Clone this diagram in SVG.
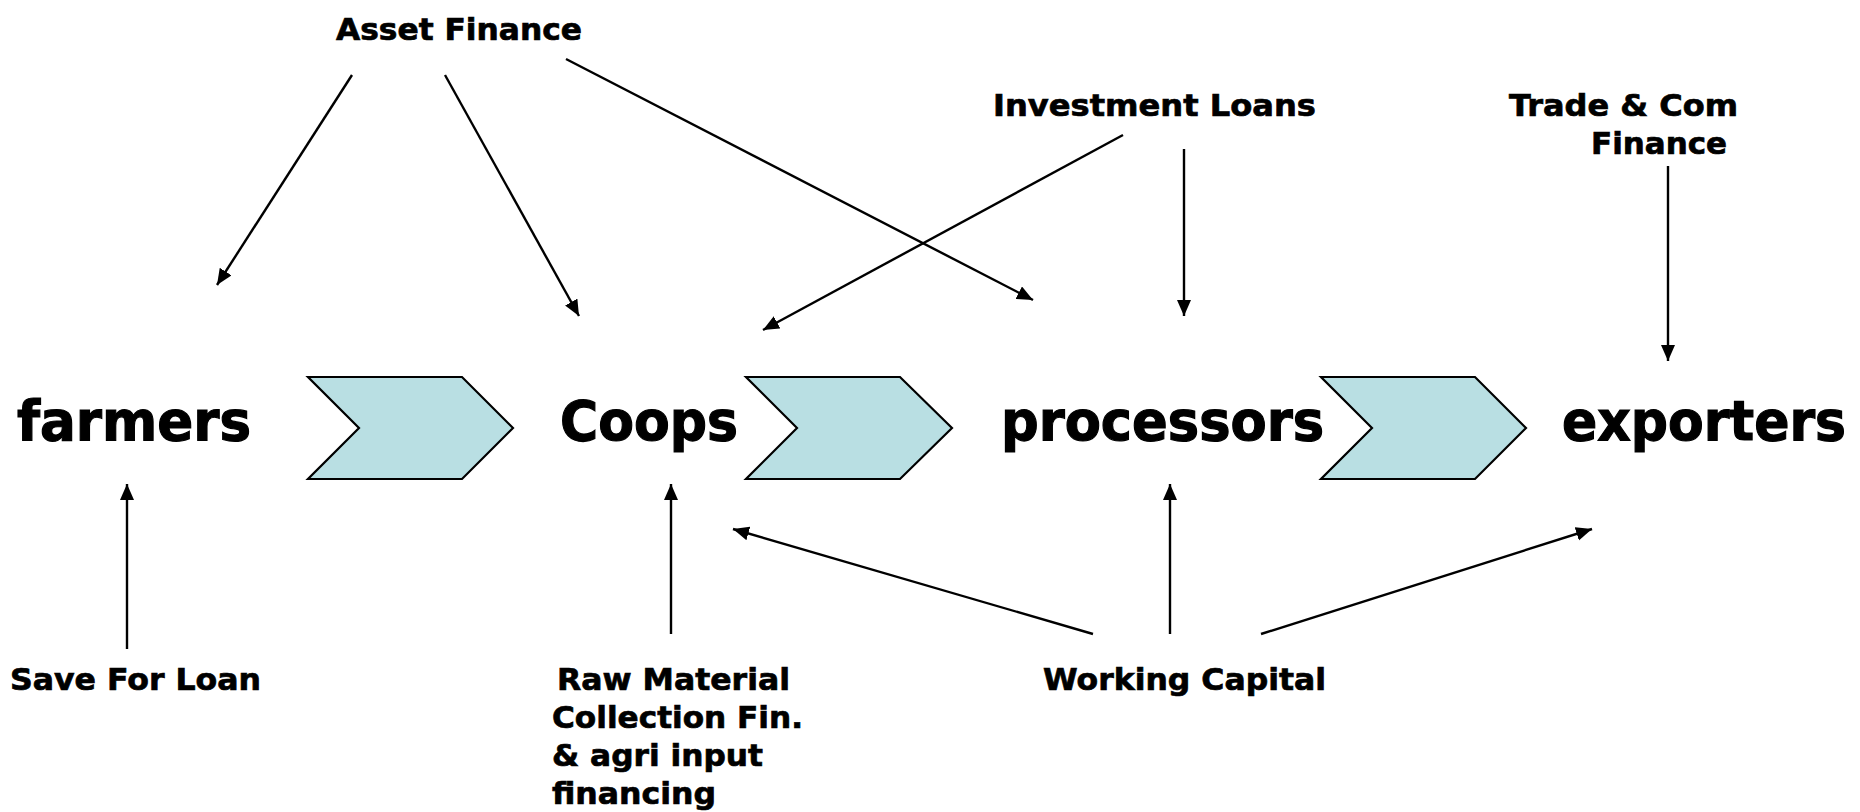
<svg xmlns="http://www.w3.org/2000/svg" width="1860" height="812" viewBox="0 0 1860 812">
  <style>
    .stage { font-family: "DejaVu Sans", Verdana, sans-serif; font-weight: bold; font-size: 55px; fill: #000; stroke: #000; stroke-width: 1.2; }
    .fin { font-family: "DejaVu Sans", Verdana, sans-serif; font-weight: bold; font-size: 31px; fill: #000; stroke: #000; stroke-width: 0.7; }
    .chev { fill: #B9DFE3; stroke: #000; stroke-width: 2.2; stroke-linejoin: miter; }
    .link { fill: none; stroke: #000; stroke-width: 2.4; marker-end: url(#head); }
  </style>
  <defs>
    <marker id="head" markerUnits="userSpaceOnUse" markerWidth="18" markerHeight="15" refX="16" refY="7" orient="auto">
      <path d="M0,0 L16,7 L0,14 z" fill="#000"/>
    </marker>
  </defs>
  <rect width="1860" height="812" fill="#fff"/>

  <!-- value chain stages -->
  <g id="farmers"><text class="stage" x="17" y="440" textLength="234" lengthAdjust="spacingAndGlyphs">farmers</text></g>
  <g id="coops"><text class="stage" x="560" y="440" textLength="178" lengthAdjust="spacingAndGlyphs">Coops</text></g>
  <g id="processors"><text class="stage" x="1001" y="440" textLength="323" lengthAdjust="spacingAndGlyphs">processors</text></g>
  <g id="exporters"><text class="stage" x="1562" y="440" textLength="284" lengthAdjust="spacingAndGlyphs">exporters</text></g>

  <!-- chevrons between stages -->
  <g id="chevron-1"><polygon class="chev" points="308,377 462,377 513,428 462,479 308,479 359,428"/></g>
  <g id="chevron-2"><polygon class="chev" points="746,377 900,377 952,428 900,479 746,479 797,428"/></g>
  <g id="chevron-3"><polygon class="chev" points="1321,377 1475,377 1526,428 1475,479 1321,479 1372,428"/></g>

  <!-- finance products -->
  <g id="asset-finance"><text class="fin" x="336" y="40" textLength="246" lengthAdjust="spacingAndGlyphs">Asset Finance</text></g>
  <g id="investment-loans"><text class="fin" x="993" y="116" textLength="323" lengthAdjust="spacingAndGlyphs">Investment Loans</text></g>
  <g id="trade-finance">
    <text class="fin" x="1509" y="116" textLength="229" lengthAdjust="spacingAndGlyphs">Trade &amp; Com</text>
    <text class="fin" x="1591" y="154" textLength="136" lengthAdjust="spacingAndGlyphs">Finance</text>
  </g>
  <g id="save-for-loan"><text class="fin" x="10" y="690" textLength="251" lengthAdjust="spacingAndGlyphs">Save For Loan</text></g>
  <g id="raw-material">
    <text class="fin" x="557" y="690" textLength="233" lengthAdjust="spacingAndGlyphs">Raw Material</text>
    <text class="fin" x="552" y="728" textLength="251" lengthAdjust="spacingAndGlyphs">Collection Fin.</text>
    <text class="fin" x="552" y="766" textLength="211" lengthAdjust="spacingAndGlyphs">&amp; agri input</text>
    <text class="fin" x="552" y="804" textLength="164" lengthAdjust="spacingAndGlyphs">financing</text>
  </g>
  <g id="working-capital"><text class="fin" x="1043" y="690" textLength="283" lengthAdjust="spacingAndGlyphs">Working Capital</text></g>

  <!-- connectors -->
  <g id="connectors">
    <line class="link" x1="352" y1="75" x2="217" y2="285"/>
    <line class="link" x1="445" y1="75" x2="579" y2="316"/>
    <line class="link" x1="566" y1="59" x2="1033" y2="300"/>
    <line class="link" x1="1123" y1="135" x2="763" y2="330"/>
    <line class="link" x1="1184" y1="149" x2="1184" y2="316"/>
    <line class="link" x1="1668" y1="166" x2="1668" y2="361"/>
    <line class="link" x1="127" y1="649" x2="127" y2="484"/>
    <line class="link" x1="671" y1="634" x2="671" y2="484"/>
    <line class="link" x1="1093" y1="634" x2="733" y2="529"/>
    <line class="link" x1="1170" y1="634" x2="1170" y2="484"/>
    <line class="link" x1="1261" y1="634" x2="1592" y2="529"/>
  </g>
</svg>
